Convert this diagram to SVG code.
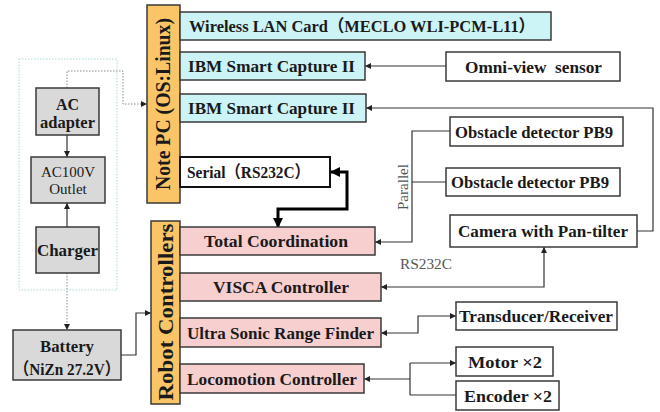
<svg xmlns="http://www.w3.org/2000/svg" width="660" height="412" viewBox="0 0 660 412">
  <defs>
    <style>
      .box { stroke: #3a3a3a; stroke-width: 1.5; }
      .pc { fill: #f9c566; }
      .cyan { fill: #ccf3f6; }
      .pink { fill: #f8cfcf; }
      .white { fill: #ffffff; }
      .gray { fill: #d9d9d9; }
      .t { font-family: "Liberation Serif", "DejaVu Serif", "Noto Sans CJK JP", serif; font-weight: 700; font-size: 17px; fill: #1a1a1a; }
      .tr { font-family: "Liberation Serif", "DejaVu Serif", serif; font-size: 15px; fill: #1a1a1a; }
      .lbl { font-family: "Liberation Serif", serif; font-size: 14px; fill: #555555; }
      .wire { fill: none; stroke: #333333; stroke-width: 1.2; }
      .dot { fill: none; stroke: #888888; stroke-width: 1; stroke-dasharray: 1.5 1.5; }
      .bus { fill: none; stroke: #000000; stroke-width: 3; }
    </style>
    <marker id="arr" viewBox="0 0 10 10" refX="10" refY="5" markerWidth="6" markerHeight="6" markerUnits="userSpaceOnUse" orient="auto-start-reverse">
      <path d="M0,0 L10,5 L0,10 z" fill="#222222"/>
    </marker>
    <marker id="arrBig" viewBox="0 0 10 10" refX="9" refY="5" markerWidth="10" markerHeight="10" markerUnits="userSpaceOnUse" orient="auto-start-reverse">
      <path d="M0,0 L10,5 L0,10 z" fill="#000000"/>
    </marker>
  </defs>

  <!-- power supply frame -->
  <rect x="19" y="59" width="98" height="231" fill="none" stroke="#a9d9d9" stroke-width="1" stroke-dasharray="1.5 1.5"/>

  <!-- connectors -->
  <g id="connectors">
    <line class="wire" x1="67" y1="135" x2="67" y2="157" marker-end="url(#arr)"/>
    <line class="wire" x1="67" y1="227" x2="67" y2="203" marker-end="url(#arr)"/>
    <line class="dot" x1="67" y1="273" x2="67" y2="330" marker-end="url(#arr)"/>
    <polyline class="wire" points="121,355 136,355 136,313 151,313" marker-end="url(#arr)"/>
    <polyline class="dot" points="67,88 67,71 123,71 123,104 147,104" marker-end="url(#arr)"/>
    <line class="wire" x1="446" y1="66" x2="365" y2="66" marker-end="url(#arr)"/>
    <polyline class="wire" points="637,231 653,231 653,108 366,108" marker-end="url(#arr)"/>
    <polyline class="wire" points="450,131 412,131 412,242 375,242" marker-end="url(#arr)"/>
    <line class="wire" x1="446" y1="182" x2="412" y2="182"/>
    <polyline class="wire" points="381,287 544,287 544,247" marker-start="url(#arr)" marker-end="url(#arr)"/>
    <polyline class="wire" points="381,333 418,333 418,316 456,316" marker-start="url(#arr)" marker-end="url(#arr)"/>
    <line class="wire" x1="364" y1="379" x2="410" y2="379" marker-start="url(#arr)"/>
    <line class="wire" x1="410" y1="363" x2="410" y2="395"/>
    <line class="wire" x1="410" y1="363" x2="456" y2="363" marker-end="url(#arr)"/>
    <line class="wire" x1="410" y1="395" x2="456" y2="395"/>
    <polyline class="bus" points="331,172 347,172 347,209 278,209 278,227" marker-start="url(#arrBig)" marker-end="url(#arrBig)"/>
    <text class="lbl" transform="translate(408,187) rotate(-90)" text-anchor="middle" textLength="46" lengthAdjust="spacingAndGlyphs">Parallel</text>
    <text class="lbl" x="400" y="269" textLength="52" lengthAdjust="spacingAndGlyphs">RS232C</text>
  </g>

  <!-- power nodes -->
  <g id="ac-adapter">
    <rect class="box gray" x="36" y="88" width="63" height="47"/>
    <text class="t" style="font-size:16px" x="67.5" y="110" text-anchor="middle">AC</text>
    <text class="t" style="font-size:16px" x="67.5" y="128" text-anchor="middle" textLength="55" lengthAdjust="spacingAndGlyphs">adapter</text>
  </g>
  <g id="outlet">
    <rect class="box gray" x="31" y="157" width="74" height="46"/>
    <text class="tr" x="68" y="177" text-anchor="middle">AC100V</text>
    <text class="tr" x="68" y="194" text-anchor="middle">Outlet</text>
  </g>
  <g id="charger">
    <rect class="box gray" x="36" y="227" width="63" height="46"/>
    <text class="t" x="67.5" y="256" text-anchor="middle" textLength="61" lengthAdjust="spacingAndGlyphs">Charger</text>
  </g>
  <g id="battery">
    <rect class="box gray" x="13" y="330" width="108" height="50"/>
    <text class="t" x="67" y="352" text-anchor="middle" textLength="54" lengthAdjust="spacingAndGlyphs">Battery</text>
    <text class="t" x="67" y="375" text-anchor="middle" textLength="106" lengthAdjust="spacingAndGlyphs">（NiZn 27.2V）</text>
  </g>

  <!-- note PC -->
  <g id="note-pc">
    <rect class="box pc" x="147" y="5" width="33" height="198"/>
    <text class="t" style="font-size:20px" transform="translate(170,104) rotate(-90)" text-anchor="middle" textLength="172" lengthAdjust="spacingAndGlyphs">Note PC (OS:Linux)</text>
  </g>
  <g id="wireless-lan">
    <rect class="box cyan" x="180" y="12" width="371" height="28"/>
    <text class="t" x="189" y="32" textLength="346" lengthAdjust="spacingAndGlyphs">Wireless LAN Card（MECLO WLI-PCM-L11）</text>
  </g>
  <g id="capture-1">
    <rect class="box cyan" x="180" y="52" width="185" height="28"/>
    <text class="t" x="188" y="72" textLength="167" lengthAdjust="spacingAndGlyphs">IBM Smart Capture II</text>
  </g>
  <g id="capture-2">
    <rect class="box cyan" x="180" y="94" width="186" height="28"/>
    <text class="t" x="188" y="114" textLength="167" lengthAdjust="spacingAndGlyphs">IBM Smart Capture II</text>
  </g>
  <g id="serial">
    <rect class="white" x="180" y="157" width="150" height="30" stroke="#111111" stroke-width="2"/>
    <text class="t" x="187" y="178" textLength="123" lengthAdjust="spacingAndGlyphs">Serial（RS232C）</text>
  </g>

  <!-- robot controllers -->
  <g id="robot-controllers">
    <rect class="box pc" x="151" y="221" width="29" height="183"/>
    <text class="t" style="font-size:22px" transform="translate(173,312) rotate(-90)" text-anchor="middle" textLength="177" lengthAdjust="spacingAndGlyphs">Robot Controllers</text>
  </g>
  <g id="total-coordination">
    <rect class="box pink" x="180" y="227" width="195" height="28"/>
    <text class="t" x="204" y="247" textLength="144" lengthAdjust="spacingAndGlyphs">Total Coordination</text>
  </g>
  <g id="visca">
    <rect class="box pink" x="180" y="273" width="201" height="28"/>
    <text class="t" x="213" y="293" textLength="136" lengthAdjust="spacingAndGlyphs">VISCA Controller</text>
  </g>
  <g id="ultrasonic">
    <rect class="box pink" x="180" y="318" width="201" height="29"/>
    <text class="t" x="187" y="338.5" textLength="187" lengthAdjust="spacingAndGlyphs">Ultra Sonic Range Finder</text>
  </g>
  <g id="locomotion">
    <rect class="box pink" x="180" y="364" width="184" height="29"/>
    <text class="t" x="187" y="384.5" textLength="170" lengthAdjust="spacingAndGlyphs">Locomotion Controller</text>
  </g>

  <!-- peripherals -->
  <g id="omni-view">
    <rect class="box white" x="446" y="52" width="174" height="29"/>
    <text class="t" x="465" y="72.5" textLength="137" lengthAdjust="spacingAndGlyphs" xml:space="preserve">Omni-view  sensor</text>
  </g>
  <g id="obstacle-1">
    <rect class="box white" x="450" y="117" width="173" height="29"/>
    <text class="t" x="455" y="137.5" textLength="158" lengthAdjust="spacingAndGlyphs">Obstacle detector PB9</text>
  </g>
  <g id="obstacle-2">
    <rect class="box white" x="446" y="168" width="174" height="28"/>
    <text class="t" x="451" y="188" textLength="158" lengthAdjust="spacingAndGlyphs">Obstacle detector PB9</text>
  </g>
  <g id="camera">
    <rect class="box white" x="450" y="215" width="187" height="32"/>
    <text class="t" x="458" y="237" textLength="170" lengthAdjust="spacingAndGlyphs">Camera with Pan-tilter</text>
  </g>
  <g id="transducer">
    <rect class="box white" x="456" y="302" width="161" height="28"/>
    <text class="t" x="459" y="322" textLength="154" lengthAdjust="spacingAndGlyphs">Transducer/Receiver</text>
  </g>
  <g id="motor">
    <rect class="box white" x="456" y="347" width="97" height="29"/>
    <text class="t" x="468" y="367.5" textLength="74" lengthAdjust="spacingAndGlyphs">Motor ×2</text>
  </g>
  <g id="encoder">
    <rect class="box white" x="456" y="381" width="103" height="29"/>
    <text class="t" x="464" y="401.5" textLength="88" lengthAdjust="spacingAndGlyphs">Encoder ×2</text>
  </g>
</svg>
